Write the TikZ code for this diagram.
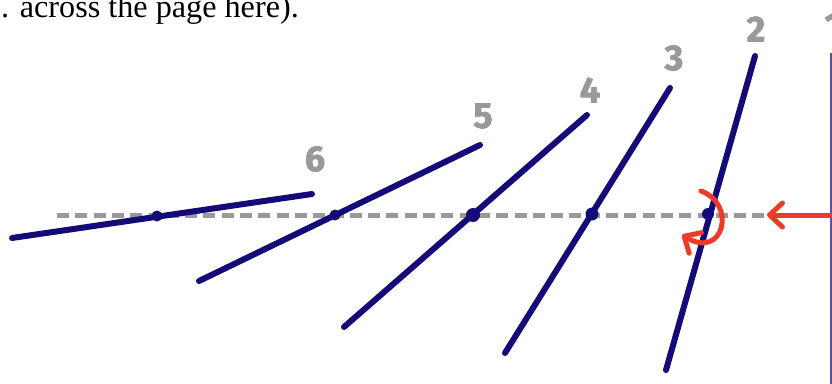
\documentclass[tikz,border=0pt]{standalone}
\usepackage{fontspec}
\setmainfont{Liberation Serif}
\newfontfamily\handfont[FakeBold=2]{Fira Sans}
\usetikzlibrary{arrows.meta,calc}
\definecolor{LinkBlue}{RGB}{20,10,120}
\definecolor{AxisGray}{RGB}{153,153,153}
\definecolor{PushRed}{RGB}{238,58,40}
\definecolor{EdgePurple}{RGB}{92,80,170}
\tikzset{
  linkline/.style={draw=LinkBlue,line width=6pt,line cap=round},
  axisline/.style={draw=AxisGray,line width=5pt,dash pattern=on 12pt off 6.3pt},
  joint/.style={circle,fill=LinkBlue,inner sep=0pt,minimum size=12pt},
  linklabel/.style={text=AxisGray,inner sep=0pt,
    font=\handfont\bfseries\fontsize{36}{36}\selectfont},
  pusharrow/.style={draw=PushRed,line width=5pt,line cap=round,
    -{Straight Barb[length=13pt,width=24pt,round]}},
}
\begin{document}
\begin{tikzpicture}[x=1pt,y=-1pt]
  \useasboundingbox (0,0) rectangle (832,383);
  % text cut by the page edge
  \node[anchor=base east,inner sep=0pt,font=\fontsize{32.2}{38}\selectfont]
    (caption) at (299,17) {e. across the page here).};
  % end points of the links
  \coordinate (l6a) at (12,238);  \coordinate (l6b) at (312,194);
  \coordinate (l5a) at (199,281); \coordinate (l5b) at (480,145);
  \coordinate (l4a) at (344,327); \coordinate (l4b) at (587,115);
  \coordinate (l3a) at (505,353); \coordinate (l3b) at (670,88);
  \coordinate (l2a) at (666,370); \coordinate (l2b) at (755,56);
  \coordinate (l1a) at (831,53);  \coordinate (l1b) at (831,392);
  \coordinate (axisL) at (57,215);
  \coordinate (axisR) at (765,215);
  \draw[axisline] (axisL) -- (axisR);
  \draw[linkline] (l6a) -- (l6b);
  \draw[linkline] (l5a) -- (l5b);
  \draw[linkline] (l4a) -- (l4b);
  \draw[linkline] (l3a) -- (l3b);
  \draw[linkline] (l2a) -- (l2b);
  \draw[draw=EdgePurple,line width=1.5pt] (l1a) -- (l1b);
  % joints on the axis
  \node[joint,minimum size=11pt] (j6) at (157,216) {};
  \node[joint,minimum size=11pt] (j5) at (335,215) {};
  \node[joint,minimum size=14pt] (j4) at (473,215) {};
  \node[joint,minimum size=13pt] (j3) at (592,214) {};
  \node[joint,minimum size=12pt] (j2) at (708,214) {};
  % labels
  \node[linklabel] (n6) at (315,159) {6};
  \node[linklabel] (n5) at (483,116) {5};
  \node[linklabel] (n4) at (590,90) {4};
  \node[linklabel] (n3) at (674,58) {3};
  \node[linklabel] (n2) at (756,29) {2};
  \node[linklabel] (n1) at (833,25) {1};
  % push and twist
  \coordinate (pushS) at (845,215);
  \coordinate (pushE) at (767,215);
  \draw[pusharrow] (pushS) -- (pushE);
  \coordinate (twistS) at (701,191);
  \coordinate (twistE) at (682,235);
  \draw[pusharrow] (twistS) .. controls (737,204) and (724,260) .. (twistE);
\end{tikzpicture}
\end{document}
